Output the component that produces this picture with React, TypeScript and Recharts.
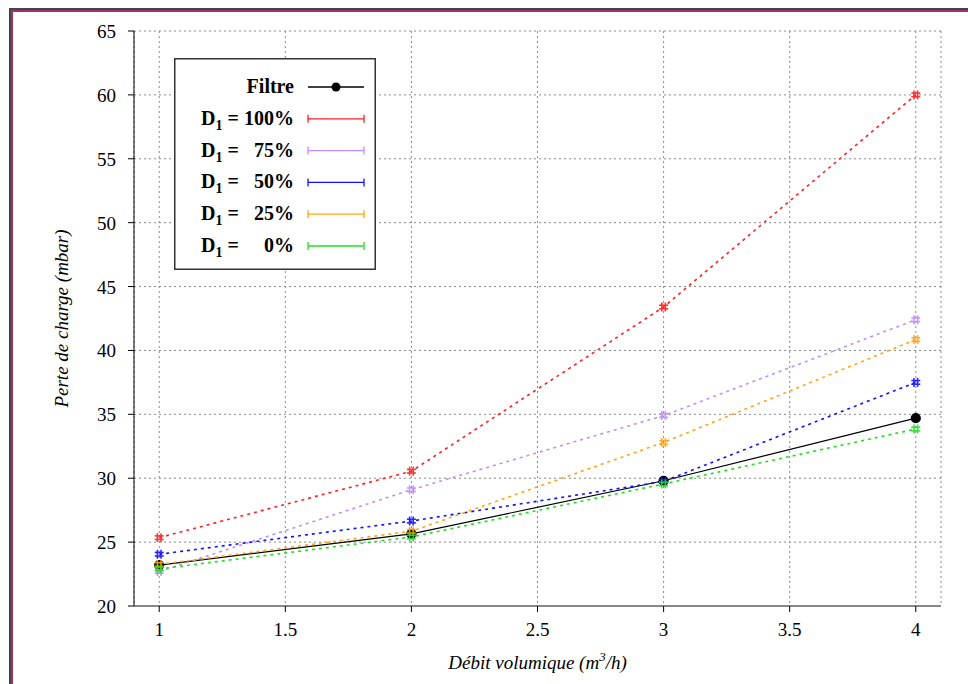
import React from 'react';
import {
    LineChart,
    Line,
    XAxis,
    YAxis,
    CartesianGrid,
    Legend,
    Label,
} from 'recharts';

const debit = [1, 2, 3, 4];
const filtre = [23.2, 25.65, 29.8, 34.7];
const d100 = [25.35, 30.55, 43.4, 60.0];
const d75 = [22.7, 29.1, 34.9, 42.4];
const d50 = [24.05, 26.65, 29.75, 37.5];
const d25 = [23.25, 25.85, 32.8, 40.85];
const d0 = [22.9, 25.4, 29.55, 33.85];

const xTicks = [1, 1.5, 2, 2.5, 3, 3.5, 4];
const yTicks = [20, 25, 30, 35, 40, 45, 50, 55, 60, 65];

const SERIES = [
    { key: 'd100', pct: '100%', color: '#ff2020' },
    { key: 'd75', pct: '75%', color: '#c18cff' },
    { key: 'd50', pct: '50%', color: '#1010ff' },
    { key: 'd25', pct: '25%', color: '#ffa510' },
    { key: 'd0', pct: '0%', color: '#20e020' },
];

const FONT = 'Liberation Serif';
const txt = { fontFamily: FONT, fontSize: 19, fill: '#000' };

const chartData = debit.map((x, i) => ({
    x,
    filtre: filtre[i],
    d100: d100[i],
    d75: d75[i],
    d50: d50[i],
    d25: d25[i],
    d0: d0[i],
}));

// little "#" shaped marker like gnuplot's pointtype
function hashDot(color: string) {
    return (p: any) => {
        const { cx, cy, index } = p;
        if (cx == null || cy == null) return <g key={index} />;
        const a = 4.5, b = 1.8;
        return (
            <g key={`h-${index}`} stroke={color} strokeWidth={1.6} opacity={0.9}>
                <line x1={cx - a} y1={cy - b} x2={cx + a} y2={cy - b} />
                <line x1={cx - a} y1={cy + b} x2={cx + a} y2={cy + b} />
                <line x1={cx - b} y1={cy - a} x2={cx - b} y2={cy + a} />
                <line x1={cx + b} y1={cy - a} x2={cx + b} y2={cy + a} />
            </g>
        );
    };
}

const XTick = (p: any) => (
    <text x={p.x} y={p.y + 24} textAnchor="middle" style={txt}>{p.payload.value}</text>
);
const YTick = (p: any) => (
    <text x={p.x - 2} y={p.y + 7} textAnchor="end" style={txt}>{p.payload.value}</text>
);

const XTitle = (p: any) => {
    const vb = p.viewBox;
    const cx = vb.x + vb.width / 2;
    return (
        <text x={cx} y={vb.y + vb.height - 7} textAnchor="middle" style={{ ...txt, fontStyle: 'italic' }}>
            Débit volumique (m<tspan fontSize={13} dy={-8}>3</tspan><tspan dy={8}>/h)</tspan>
        </text>
    );
};
const YTitle = (p: any) => {
    const vb = p.viewBox;
    const x = vb.x + 68, y = vb.y + vb.height / 2;
    return (
        <text x={x} y={y} transform={`rotate(-90 ${x} ${y})`} textAnchor="middle" style={{ ...txt, fontStyle: 'italic' }}>
            Perte de charge (mbar)
        </text>
    );
};

function LegendBox() {
    const rowY = (i: number) => 29 + i * 31.8;
    const sample = (y: number, color: string, caps: boolean) => (
        <g stroke={color} strokeWidth={1.3}>
            <line x1={134} y1={y} x2={190} y2={y} />
            {caps && <line x1={134} y1={y - 4} x2={134} y2={y + 4} />}
            {caps && <line x1={190} y1={y - 4} x2={190} y2={y + 4} />}
        </g>
    );
    return (
        <svg width={202} height={212} style={{ display: 'block' }}>
            <rect x={0.75} y={0.75} width={200.5} height={210.5} fill="#fff" stroke="#333" strokeWidth={1.5} />
            <g style={{ fontFamily: FONT, fontWeight: 'bold', fontSize: 20 }} fill="#000">
                <text x={120} y={rowY(0) + 6} textAnchor="end">Filtre</text>
                {sample(rowY(0), '#000', false)}
                <circle cx={162} cy={rowY(0)} r={4.5} fill="#000" />
                {SERIES.map((s, i) => {
                    const y = rowY(i + 1);
                    return (
                        <g key={s.key}>
                            <text x={27} y={y + 6}>
                                D<tspan fontSize={14} dy={5}>1</tspan>
                                <tspan dy={-5}> =</tspan>
                            </text>
                            <text x={120} y={y + 6} textAnchor="end">{s.pct}</text>
                            {sample(y, s.color, true)}
                        </g>
                    );
                })}
            </g>
        </svg>
    );
}

export default function App() {
    return (
        <div style={{ position: 'absolute', left: 0, top: 0, width: 968, height: 684, background: '#fff' }}>
            <LineChart
                width={968}
                height={684}
                data={chartData}
                margin={{ top: 31, right: 27, bottom: 8, left: 0 }}
            >
                <CartesianGrid stroke="#8a8a8a" strokeDasharray="2 3" />
                <XAxis
                    dataKey="x"
                    type="number"
                    domain={[0.9, 4.1]}
                    ticks={xTicks}
                    height={70}
                    tick={<XTick />}
                    tickSize={6}
                    tickMargin={0}
                    axisLine={{ stroke: '#888', strokeWidth: 2 }}
                    tickLine={{ stroke: '#000' }}
                >
                    <Label content={<XTitle />} />
                </XAxis>
                <YAxis
                    type="number"
                    domain={[20, 65]}
                    ticks={yTicks}
                    width={134}
                    tick={<YTick />}
                    tickSize={6}
                    tickMargin={10}
                    axisLine={{ stroke: '#000' }}
                    tickLine={{ stroke: '#000' }}
                >
                    <Label content={<YTitle />} />
                </YAxis>

                <Legend
                    layout="vertical"
                    align="center"
                    verticalAlign="middle"
                    content={() => <LegendBox />}
                    wrapperStyle={{ left: 174, top: 58, width: 202, height: 212 }}
                />

                <Line
                    type="linear"
                    dataKey="filtre"
                    stroke="#000"
                    strokeWidth={1.2}
                    dot={{ r: 4.5, fill: '#000', stroke: '#000' }}
                    isAnimationActive={false}
                />
                {SERIES.map((s) => (
                    <Line
                        key={s.key}
                        type="linear"
                        dataKey={s.key}
                        stroke={s.color}
                        strokeWidth={1.6}
                        strokeDasharray="3 4"
                        dot={hashDot(s.color)}
                        isAnimationActive={false}
                    />
                ))}
            </LineChart>
            <div style={{ position: 'absolute', left: 9, top: 8, right: 0, bottom: 0, borderLeft: '2px solid #444', borderTop: '2px solid #444', pointerEvents: 'none' }} />
            <div style={{ position: 'absolute', left: 11, top: 10, right: 0, bottom: 0, borderLeft: '2px solid #a3306e', borderTop: '2px solid #a3306e', pointerEvents: 'none' }} />
        </div>
    );
}
